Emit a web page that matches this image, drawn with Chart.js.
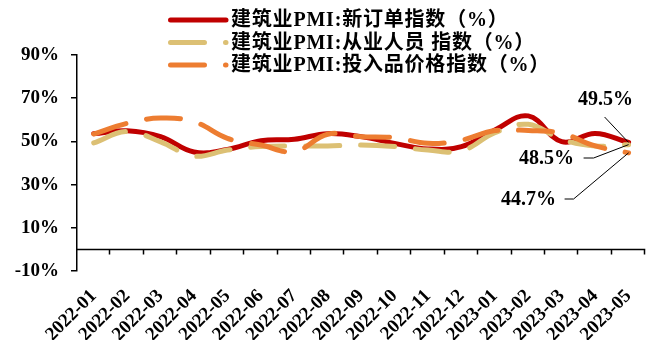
<!DOCTYPE html>
<html>
<head>
<meta charset="utf-8">
<script src="https://cdn.jsdelivr.net/npm/chart.js@4.4.1/dist/chart.umd.min.js"></script>
<style>
  html, body { margin: 0; padding: 0; background: #ffffff; }
  canvas { display: block; }
</style>
</head>
<body>
<canvas id="c" width="659" height="340"></canvas>
<script>
// Months on the category axis
const months = ['2022-01','2022-02','2022-03','2022-04','2022-05','2022-06','2022-07','2022-08',
                '2022-09','2022-10','2022-11','2022-12','2023-01','2023-02','2023-03','2023-04','2023-05'];

// Construction PMI sub-indices (%)
const newOrders   = [53.6, 54.9, 52.2, 45.1, 46.3, 50.3, 51.0, 53.6, 52.2, 49.1, 46.5, 47.6, 55.3, 61.8, 49.9, 53.7, 49.5];
const employment  = [49.3, 54.6, 49.8, 43.2, 46.0, 47.6, 47.9, 47.9, 48.3, 47.6, 46.0, 45.6, 54.0, 57.9, 51.0, 47.9, 48.5];
const inputPrices = [53.4, 58.4, 60.8, 59.1, 51.4, 48.3, 45.3, 53.3, 52.2, 51.7, 49.1, 50.6, 55.0, 55.0, 53.7, 47.9, 44.7];

const seriesNames = [
  '建筑业PMI:新订单指数（%）',
  '建筑业PMI:从业人员 指数（%）',
  '建筑业PMI:投入品价格指数（%）'
];

// Value axis range and step
const yMin = -10, yMax = 90, yStep = 20;

const FONT = "'Liberation Serif', 'Noto Sans CJK SC', serif";
const RED = '#C00000', SAND = '#DCC074', ORANGE = '#ED7D31';
const DASH = [34, 21];

// Legend drawn in the top band, overlapping the plot's upper margin
const legendPlugin = {
  id: 'topLegend',
  afterDraw(chart) {
    const ctx = chart.ctx;
    const rows = [20, 42.5, 65];
    chart.data.datasets.forEach((ds, i) => {
      const y = rows[i];
      ctx.save();
      ctx.strokeStyle = ds.borderColor;
      ctx.lineWidth = 5;
      ctx.lineCap = 'round';
      ctx.setLineDash(ds.borderDash || []);
      ctx.beginPath();
      ctx.moveTo(170.5, y);
      ctx.lineTo(226, y);
      ctx.stroke();
      ctx.setLineDash([]);
      ctx.fillStyle = '#000';
      ctx.font = 'bold 20px ' + FONT;
      if ('letterSpacing' in ctx) ctx.letterSpacing = '0.8px';
      ctx.textAlign = 'left';
      ctx.textBaseline = 'middle';
      ctx.fillText(ds.label, 231, y + 1);
      ctx.restore();
    });
  }
};

// Horizontal axis line at 0 with tick marks between categories
const zeroAxisPlugin = {
  id: 'zeroAxis',
  beforeDatasetsDraw(chart) {
    const { ctx, chartArea, scales } = chart;
    const y = Math.round(scales.y.getPixelForValue(0)) + 0.5;
    const n = chart.data.labels.length;
    const step = (chartArea.right - chartArea.left) / n;
    ctx.save();
    ctx.strokeStyle = '#000';
    ctx.lineWidth = 1.5;
    ctx.beginPath();
    ctx.moveTo(chartArea.left, y);
    ctx.lineTo(chartArea.right, y);
    for (let i = 1; i <= n; i++) {
      const x = Math.round(chartArea.left + i * step) - 0.5;
      ctx.moveTo(x, y);
      ctx.lineTo(x, y + 5);
    }
    ctx.stroke();
    ctx.restore();
  }
};

// Callouts for the latest values, with leader lines to the end points
const calloutPlugin = {
  id: 'callouts',
  afterDatasetsDraw(chart) {
    const { ctx, scales } = chart;
    const last = chart.data.labels.length - 1;
    const px = scales.x.getPixelForValue(last);
    const specs = [
      { ds: 0, tx: px - 23, ty: 100, path: [[px - 24, 117]] },
      { ds: 1, tx: px - 82, ty: 158.5, path: [[px - 45, 158], [px - 35, 158]] },
      { ds: 2, tx: px - 100, ty: 199.5, path: [[px - 64, 199], [px - 55, 199]] }
    ];
    ctx.save();
    specs.forEach(s => {
      const v = chart.data.datasets[s.ds].data[last];
      const py = scales.y.getPixelForValue(v);
      ctx.strokeStyle = '#000';
      ctx.lineWidth = 1;
      ctx.beginPath();
      ctx.moveTo(s.path[0][0], s.path[0][1]);
      for (let k = 1; k < s.path.length; k++) ctx.lineTo(s.path[k][0], s.path[k][1]);
      ctx.lineTo(px, py);
      ctx.stroke();
      ctx.fillStyle = '#000';
      ctx.font = 'bold 20px ' + FONT;
      ctx.textAlign = 'center';
      ctx.textBaseline = 'middle';
      ctx.fillText(v.toFixed(1) + '%', s.tx, s.ty);
    });
    ctx.restore();
  }
};

new Chart(document.getElementById('c'), {
  type: 'line',
  data: {
    labels: months,
    datasets: [
      { label: seriesNames[0], data: newOrders, borderColor: RED, borderWidth: 5, order: 3 },
      { label: seriesNames[1], data: employment, borderColor: SAND, borderWidth: 5, borderDash: DASH, order: 2 },
      { label: seriesNames[2], data: inputPrices, borderColor: ORANGE, borderWidth: 5, borderDash: DASH, order: 1 }
    ]
  },
  options: {
    responsive: false,
    animation: false,
    layout: { padding: { top: 55, right: 10, bottom: 0, left: 0 } },
    elements: {
      point: { radius: 0, hoverRadius: 0 },
      line: { tension: 0.4, borderCapStyle: 'round', borderJoinStyle: 'round', fill: false }
    },
    plugins: {
      legend: { display: false },
      tooltip: { enabled: false }
    },
    scales: {
      x: {
        type: 'category',
        offset: true,
        grid: { display: false, drawTicks: false },
        border: { display: false },
        ticks: {
          color: '#000',
          font: { family: FONT, size: 19, weight: 'bold' },
          minRotation: 45,
          maxRotation: 45,
          autoSkip: false,
          padding: 14
        },
        afterFit(scale) { scale.height = 69; }
      },
      y: {
        min: yMin,
        max: yMax,
        grid: { display: true, drawOnChartArea: false, drawTicks: true, tickLength: 6, color: '#000', lineWidth: 1.5 },
        border: { display: true, color: '#000', width: 1.5 },
        ticks: {
          stepSize: yStep,
          color: '#000',
          padding: 12,
          font: { family: FONT, size: 19, weight: 'bold' },
          callback: v => v + '%'
        },
        afterFit(scale) { scale.width = 77; }
      }
    }
  },
  plugins: [zeroAxisPlugin, calloutPlugin, legendPlugin]
});
</script>
</body>
</html>
